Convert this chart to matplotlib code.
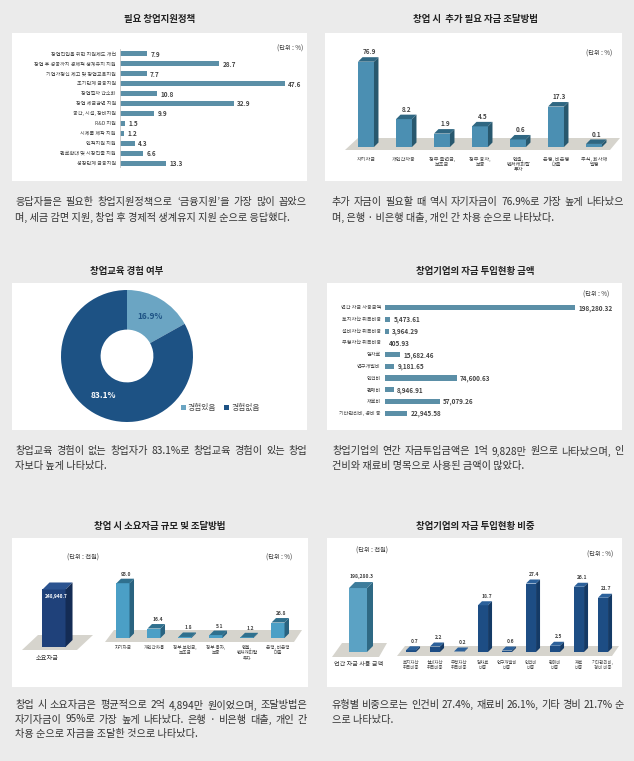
import numpy as np
import matplotlib
matplotlib.use("Agg")
import matplotlib.pyplot as plt
from matplotlib.patches import Rectangle, Polygon
from matplotlib.transforms import IdentityTransform

plt.rcParams['font.family'] = ['Noto Sans CJK KR', 'DejaVu Sans']

W, H = 634, 761
BG = '#ebebeb'
TXT = '#333333'

# ---- data ----
policy_labels = ['창업진입을 위한 지원제도 개선', '창업 후 성공까지 경제적 생계유지 지원',
                 '기업가정신 제고 및 창업교육지원', '초기단계 금융지원', '창업절차 간소화',
                 '창업 세금감면 지원', '공간, 시설, 장비지원', 'R&D 지원', '시제품 제작 지원',
                 '인적지원 지원', '판로확대 및 시장진출 지원', '성장단계 금융지원']
policy_values = [7.9, 28.7, 7.7, 47.6, 10.8, 32.9, 9.9, 1.5, 1.2, 4.3, 6.6, 13.3]

extra_labels = ['자기자금', '개인간차용', '정부 출연금,\n보조금', '정부 융자,\n보증',
                '엔젤,\n벤처캐피탈\n투자', '은행, 비은행\n대출', '주식, 회사채\n발행']
extra_values = [76.9, 8.2, 1.9, 4.5, 0.6, 17.3, 0.1]

edu_labels = ['경험있음', '경험없음']
edu_values = [16.9, 83.1]

spend_labels = ['연간 자금 사용금액', '토지자산 취득비용', '설비자산 취득비용', '무형자산 취득비용',
                '임차료', '연구개발비', '인건비', '판매비', '재료비', '기타관리비, 경비 등']
spend_values = [198280.32, 5473.61, 3964.29, 405.93, 15682.46, 9181.65,
                74600.63, 8946.91, 57079.26, 22945.58]

need_label = '소요자금'
need_value = 248940.7
src_labels = ['자기자금', '개인간차용', '정부 보연금,\n보조금', '정부 융자,\n보증',
              '엔젤,\n벤처캐피탈\n투자', '은행, 비은행\n대출']
src_values = [95.0, 16.4, 1.8, 5.1, 1.2, 26.8]

use_label = '연간 자금 사용 금액'
use_value = 198280.3
share_labels = ['토지자산\n취득비중', '설비자산\n취득비중', '무형자산\n취득비중', '임차료\n비중',
                '연구개발비\n비중', '인건비\n비중', '판매비\n비중', '재료\n비중', '기타관리비,\n경비 비중']
share_values = [0.7, 2.2, 0.2, 18.7, 0.6, 27.4, 2.5, 26.1, 21.7]

fig = plt.figure(figsize=(W / 100, H / 100), dpi=100, facecolor=BG)


def ax_px(x0, y0, x1, y1):
    ax = fig.add_axes([x0 / W, 1 - y1 / H, (x1 - x0) / W, (y1 - y0) / H])
    ax.set_axis_off()
    return ax


def box(x0, y0, x1, y1):
    fig.add_artist(Rectangle((x0 / W, 1 - y1 / H), (x1 - x0) / W, (y1 - y0) / H,
                             transform=fig.transFigure, facecolor='white',
                             edgecolor='none', zorder=-2))


def floor(pts):
    fig.add_artist(Polygon([(x, H - y) for x, y in pts], closed=True,
                           transform=IdentityTransform(), facecolor='#d6d4cd',
                           edgecolor='none', zorder=-1))


def ftext(x, y, s, **kw):
    kw.setdefault('color', TXT)
    return fig.text(x / W, 1 - y / H, s, **kw)


def bars3d(ax, xs, vals, width, front, top, side, dx, dy):
    ax.bar(xs, vals, width=width, color=front, zorder=3)
    for x, v in zip(xs, vals):
        l, b = ax.transData.transform((x - width / 2, 0))
        r, t = ax.transData.transform((x + width / 2, v))
        tp = [(l, t), (r, t), (r + dx, t + dy), (l + dx, t + dy)]
        sd = [(r, b), (r + dx, b + dy), (r + dx, t + dy), (r, t)]
        for poly, c in ((tp, top), (sd, side)):
            ax.add_patch(Polygon(poly, closed=True, transform=IdentityTransform(),
                                 facecolor=c, edgecolor='none', clip_on=False, zorder=3))


def para(x, y, lines, width, size=7.3, step=15):
    r = fig.canvas.get_renderer()
    for i, line in enumerate(lines):
        yy = y + i * step
        words = line.split(' ')
        if i == len(lines) - 1 or len(words) < 2:
            ftext(x, yy, line, fontsize=size, va='center')
            continue
        ts = [ftext(x, yy, w, fontsize=size, va='center') for w in words]
        ws = [t.get_window_extent(r).width for t in ts]
        gap = (width - sum(ws)) / (len(words) - 1)
        pos = x
        for t, w in zip(ts, ws):
            t.set_x(pos / W)
            pos += w + gap


title_kw = dict(fontsize=6.8, fontweight='bold', ha='center', va='center', color='#222222')

# ---- panel 1: 필요 창업지원정책 ----
ftext(160, 19, '필요 창업지원정책', **title_kw)
box(12, 33, 307, 181)
ax1 = ax_px(120, 49, 300, 168)
ax1.set_xlim(0, 52)
ax1.set_ylim(len(policy_values) - 0.5, -0.5)
ax1.barh(range(len(policy_values)), policy_values, height=0.5, color='#5b8fa7')
ax1.axvline(0, color='#c8c8c8', lw=0.6)
for i, (lab, v) in enumerate(zip(policy_labels, policy_values)):
    ax1.annotate(lab, (0, i), xytext=(-3, 0), textcoords='offset points',
                 ha='right', va='center', fontsize=3.7, color='#444444')
    ax1.annotate(f'{v:.1f}', (v, i), xytext=(2.5, -0.3), textcoords='offset points',
                 ha='left', va='center', fontsize=4.6, fontweight='bold', color='#444444')
ftext(303, 49, '(단위 : %)', fontsize=4.5, ha='right', va='center')

# ---- panel 2: 창업 시 추가 필요 자금 조달방법 ----
ftext(475, 19, '창업 시  추가 필요 자금 조달방법', **title_kw)
box(325, 33, 622, 181)
floor([(345, 150), (358, 138), (620, 138), (610, 150)])
ax2 = ax_px(347, 60, 613, 147)
ax2.set_yscale('function', functions=(np.sqrt, np.square))
ax2.set_xlim(-0.5, len(extra_values) - 0.5)
ax2.set_ylim(0, 80)
x2 = np.arange(len(extra_values))
bars3d(ax2, x2, extra_values, 0.42, '#4b8fb2', '#2f6782', '#28586e', 4.5, 4.5)
for x, v, lab in zip(x2, extra_values, extra_labels):
    ax2.annotate(f'{v:.1f}', (x, v), xytext=(2.2, 7), textcoords='offset points',
                 ha='center', va='center', fontsize=4.6, fontweight='bold', color='#444444')
    ax2.annotate(lab, (x, 0), xytext=(0, -7), textcoords='offset points', ha='center',
                 va='top', fontsize=3.7, color='#444444', linespacing=1.05)
ftext(612, 54, '(단위 : %)', fontsize=4.5, ha='right', va='center')

para(15, 202, ['응답자들은 필요한 창업지원정책으로 ‘금융지원’을 가장 많이 꼽았으',
               '며, 세금 감면 지원, 창업 후 경제적 생계유지 지원 순으로 응답했다.'], 292)
para(332, 202, ['추가 자금이 필요할 때 역시 자기자금이 76.9%로 가장 높게 나타났으',
                '며, 은행 · 비은행 대출, 개인 간 차용 순으로 나타났다.'], 292)

# ---- panel 3: 창업교육 경험 여부 ----
ftext(127, 271, '창업교육 경험 여부', **title_kw)
box(12, 283, 307, 430)
ax3 = ax_px(61, 290, 193, 422)
wedges, _, autos = ax3.pie(edu_values, colors=['#6ba5c3', '#1d5284'], startangle=90,
                           counterclock=False, radius=1,
                           wedgeprops=dict(width=0.6, edgecolor='none'),
                           autopct='%.1f%%', pctdistance=0.7)
autos[0].set_color('#1d5284')
autos[1].set_color('white')
for a in autos:
    a.set_fontsize(6)
    a.set_fontweight('bold')
ax3.set_xlim(-1, 1)
ax3.set_ylim(-1, 1)
ax3.legend(wedges, edu_labels, ncol=2, loc='center left',
           bbox_to_anchor=(181 / W, 1 - 408 / H), bbox_transform=fig.transFigure,
           frameon=False, fontsize=5.6, handlelength=0.6, handleheight=0.6,
           handletextpad=0.3, columnspacing=1.0, borderpad=0, borderaxespad=0,
           labelcolor='#444444')

# ---- panel 4: 창업기업의 자금 투입현황 금액 ----
ftext(475, 271, '창업기업의 자금 투입현황 금액', **title_kw)
box(327, 283, 622, 430)
ax4 = ax_px(385, 302, 595, 419)
ax4.set_xlim(0, 219000)
ax4.set_ylim(len(spend_values) - 0.5, -0.5)
ax4.barh(range(len(spend_values)), spend_values, height=0.45, color='#5b8fa7')
for i, (lab, v) in enumerate(zip(spend_labels, spend_values)):
    ax4.annotate(lab, (0, i), xytext=(-3, 0), textcoords='offset points',
                 ha='right', va='center', fontsize=3.7, color='#444444')
    ax4.annotate(f'{v:,.2f}', (v, i), xytext=(2.5, -0.3), textcoords='offset points',
                 ha='left', va='center', fontsize=4.6, fontweight='bold', color='#444444')
ftext(609, 295, '(단위 : %)', fontsize=4.5, ha='right', va='center')

para(15, 451, ['창업교육 경험이 없는 창업자가 83.1%로 창업교육 경험이 있는 창업',
               '자보다 높게 나타났다.'], 292)
para(332, 451, ['창업기업의 연간 자금투입금액은 1억 9,828만 원으로 나타났으며, 인',
                '건비와 재료비 명목으로 사용된 금액이 많았다.'], 292)

# ---- panel 5: 창업 시 소요자금 규모 및 조달방법 ----
ftext(160, 526, '창업 시 소요자금 규모 및 조달방법', **title_kw)
box(12, 538, 308, 687)
floor([(22, 650), (38, 635), (93, 635), (77, 650)])
ax5a = ax_px(30, 580, 78, 647)
ax5a.set_xlim(-1, 1)
ax5a.set_ylim(0, 290000)
bars3d(ax5a, [0], [need_value], 0.96, '#1f417a', '#2b5390', '#142c55', 7, 7)
ax5a.annotate(f'{need_value:,.1f}', (0, need_value), xytext=(1.5, -5),
              textcoords='offset points', ha='center', va='center', fontsize=3.4,
              fontweight='bold', color='white', zorder=5)
ftext(47, 658, need_label, fontsize=4.5, ha='center', va='center')
ftext(83, 558, '(단위 : 천원)', fontsize=4.5, ha='center', va='center')

floor([(105, 642), (114, 630), (302, 630), (294, 642)])
ax5b = ax_px(107.5, 578, 293.5, 638)
ax5b.set_xlim(-0.5, len(src_values) - 0.5)
ax5b.set_ylim(0, 104)
x5 = np.arange(len(src_values))
bars3d(ax5b, x5, src_values, 0.42, '#4b9fc6', '#2f708e', '#2a6380', 4.5, 4.5)
for x, v, lab in zip(x5, src_values, src_labels):
    ax5b.annotate(f'{v:.1f}', (x, v), xytext=(2.5, 6.5), textcoords='offset points',
                  ha='center', va='center', fontsize=3.6, fontweight='bold', color='#444444')
    ax5b.annotate(lab, (x, 0), xytext=(0, -5), textcoords='offset points', ha='center',
                  va='top', fontsize=3.3, color='#444444', linespacing=1.1)
ftext(279, 558, '(단위 : %)', fontsize=4.5, ha='center', va='center')

# ---- panel 6: 창업기업의 자금 투입현황 비중 ----
ftext(475, 526, '창업기업의 자금 투입현황 비중', **title_kw)
box(327, 538, 622, 687)
floor([(332, 657), (342, 643), (387, 643), (379, 657)])
ax6a = ax_px(334, 582, 382, 652)
ax6a.set_xlim(-1, 1)
ax6a.set_ylim(0, 217000)
bars3d(ax6a, [0], [use_value], 0.75, '#5ba2c4', '#3d7c9b', '#2f6984', 6, 6)
ax6a.annotate(f'{use_value:,.1f}', (0, use_value), xytext=(2.5, 8), textcoords='offset points',
              ha='center', va='center', fontsize=3.6, fontweight='bold', color='#444444')
ftext(359, 664, use_label, fontsize=4.4, ha='center', va='center')
ftext(372, 551, '(단위 : 천원)', fontsize=4.5, ha='center', va='center')

floor([(397, 656), (405, 646), (619, 646), (612, 656)])
ax6b = ax_px(399, 577, 615, 652)
ax6b.set_xlim(-0.5, len(share_values) - 0.5)
ax6b.set_ylim(0, 30)
x6 = np.arange(len(share_values))
bars3d(ax6b, x6, share_values, 0.42, '#1d4d84', '#2c619b', '#143a66', 4, 4)
for x, v, lab in zip(x6, share_values, share_labels):
    ax6b.annotate(f'{v:.1f}', (x, v), xytext=(2.5, 6.5), textcoords='offset points',
                  ha='center', va='center', fontsize=3.6, fontweight='bold', color='#444444')
    ax6b.annotate(lab, (x, 0), xytext=(0, -5.5), textcoords='offset points', ha='center',
                  va='top', fontsize=3.2, color='#444444', linespacing=1.1)
ftext(600, 555, '(단위 : %)', fontsize=4.5, ha='center', va='center')

para(15, 705, ['창업 시 소요자금은 평균적으로 2억 4,894만 원이었으며, 조달방법은',
               '자기자금이 95%로 가장 높게 나타났다. 은행 · 비은행 대출, 개인 간',
               '차용 순으로 자금을 조달한 것으로 나타났다.'], 292, step=14.5)
para(332, 705, ['유형별 비중으로는 인건비 27.4%, 재료비 26.1%, 기타 경비 21.7% 순',
                '으로 나타났다.'], 292, step=14.5)

fig.savefig('out.png', dpi=100, facecolor=BG)
